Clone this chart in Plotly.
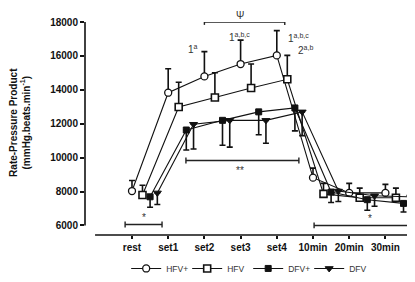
import plotly.graph_objects as go

categories = ["rest", "set1", "set2", "set3", "set4", "10min", "20min", "30min"]

hfv_plus = [8030, 13830, 14790, 15520, 16030, 8820, 7920, 7920]
hfv_plus_err = [620, 1410, 1460, 1410, 1460, 560, 560, 500]

hfv = [7800, 12990, 13550, 14110, 14620, 7860, 7630, 7630]
hfv_err = [570, 1460, 1460, 1410, 1410, 620, 570, 570]

dfv_plus = [7690, 11630, 12200, 12700, 12930, 7970, 7520, 7300]
dfv_plus_err = [620, 1180, 1470, 1350, 1350, 620, 620, 510]

dfv = [7920, 11970, 12200, 12200, 12700, 8030, 7750, 7690]
dfv_err = [680, 1460, 1580, 1350, 1400, 620, 620, 560]

ytick_vals = [6000, 8000, 10000, 12000, 14000, 16000, 18000]

series = [
    ("HFV+", hfv_plus, hfv_plus_err, True, 0.0, dict(symbol="circle", color="white", size=7, line=dict(color="#111", width=1.3))),
    ("HFV", hfv, hfv_err, True, 0.29, dict(symbol="square", color="white", size=7, line=dict(color="#111", width=1.6))),
    ("DFV+", dfv_plus, dfv_plus_err, False, 0.5, dict(symbol="square", color="#111", size=6, line=dict(color="#111", width=1))),
    ("DFV", dfv, dfv_err, False, 0.7, dict(symbol="triangle-down", color="#111", size=7, line=dict(color="#111", width=1))),
]

fig = go.Figure()
for name, vals, errs, up, off, marker in series:
    xs = [i + off for i in range(len(categories))]
    if up:
        ey = dict(type="data", symmetric=False, array=errs, arrayminus=[0] * len(errs),
                  color="#111", thickness=1.6, width=3)
    else:
        ey = dict(type="data", symmetric=False, array=[0] * len(errs), arrayminus=errs,
                  color="#111", thickness=1.6, width=3)
    fig.add_trace(go.Scatter(
        x=xs, y=vals, name=name, mode="lines+markers",
        line=dict(color="#111", width=1.1),
        marker=marker, error_y=ey, cliponaxis=False,
    ))

def tickfont():
    return dict(family="Liberation Sans, Arial", size=10, color="#111111", weight="bold")

fig.update_layout(
    template="none",
    width=415, height=282,
    margin=dict(l=77, r=7, t=14, b=45),
    paper_bgcolor="white", plot_bgcolor="white",
    showlegend=True,
    legend=dict(orientation="h", x=0.493, xanchor="center", y=-0.157, yanchor="middle",
                font=dict(family="Liberation Sans, Arial", size=8.5, color="#333333"),
                itemwidth=30, entrywidth=16, entrywidthmode="pixels", bgcolor="rgba(0,0,0,0)"),
    xaxis=dict(range=[-1.298, 7.845], tickvals=list(range(len(categories))), ticktext=categories,
               showgrid=False, zeroline=False, showline=False, ticks="outside", ticklen=3,
               tickwidth=1.5, tickcolor="#111", tickfont=tickfont()),
    yaxis=dict(range=[5437, 18000], tickvals=ytick_vals, ticktext=[str(v) for v in ytick_vals],
               showgrid=False, zeroline=False, showline=False, ticks="outside", ticklen=4,
               tickwidth=1.5, tickcolor="#111", tickfont=tickfont()),
)

# axis lines (offset style)
fig.add_shape(type="line", xref="paper", yref="y", x0=0, x1=0, y0=6000, y1=18000,
              line=dict(color="#111", width=1.6))
fig.add_shape(type="line", xref="x", yref="paper", x0=-1.02, x1=7.845, y0=0, y1=0,
              line=dict(color="#111", width=1.6))

def bracket(x0, x1, y, cap=170):
    fig.add_shape(type="line", xref="x", yref="y", x0=x0, x1=x1, y0=y, y1=y, line=dict(color="#222", width=1.4))
    for xx in (x0, x1):
        fig.add_shape(type="line", xref="x", yref="y", x0=xx, x1=xx, y0=y - cap, y1=y + cap,
                      line=dict(color="#222", width=1.4))

bracket(2.0, 4.22, 18000)
bracket(1.49, 4.61, 9831)
bracket(-0.19, 0.83, 6056)
bracket(5.03, 7.82, 6000)

notes = [
    ("1<sup>a</sup>", 1.69, 16423),
    ("1<sup>a,b,c</sup>", 2.98, 17100),
    ("1<sup>a,b,c</sup>", 4.59, 17045),
    ("2<sup>a,b</sup>", 4.78, 16366),
    ("**", 2.98, 9250),
    ("*", 0.32, 6450),
    ("*", 6.57, 6420),
]
for t, x, y in notes:
    fig.add_annotation(text=t, x=x, y=y, xref="x", yref="y", showarrow=False,
                       xanchor="center", yanchor="middle",
                       font=dict(family="Liberation Sans, Arial", size=10, color="#333333"))

fig.add_annotation(text="Ψ", x=2.98, y=1.03, xref="x", yref="paper", showarrow=False,
                   xanchor="center", yanchor="middle",
                   font=dict(family="Liberation Sans, Arial", size=10, color="#333333"))

fig.add_annotation(text="Rate-Pressure Product<br>(mmHg.beats.min<sup>-1</sup>)",
                   xref="paper", yref="paper", x=-0.197, y=0.53, textangle=-90, showarrow=False,
                   xanchor="center", yanchor="middle",
                   font=dict(family="Liberation Sans, Arial", size=10, color="#111111", weight="bold"))

fig.write_html("out.html")
